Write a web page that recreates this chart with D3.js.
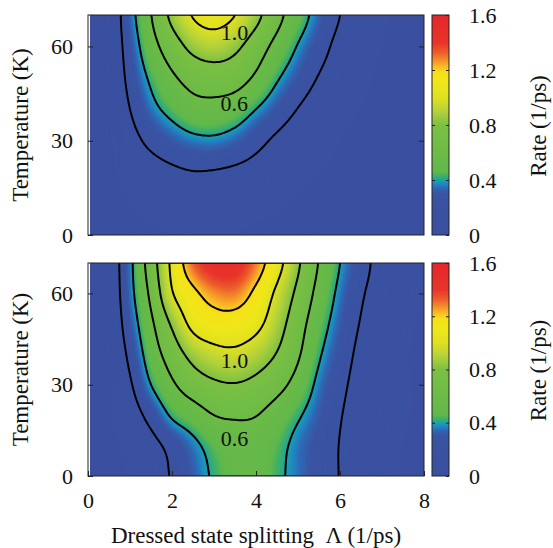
<!DOCTYPE html>
<html>
<head>
<meta charset="utf-8">
<script src="https://cdn.jsdelivr.net/npm/d3@7"></script>
<style>
  body { margin: 0; background: #fff; }
  text { font-family: "Liberation Serif", "Times New Roman", serif; }
</style>
</head>
<body>
<svg id="chart" width="553" height="548"></svg>
<script>
// grid the rate was read on (columns = splitting, rows = temperature)
const lambdaGrid = [0, 0.5, 1, 1.5, 2, 2.5, 3, 3.5, 4, 4.5, 5, 5.5, 6, 6.5, 7, 7.5, 8]
const tempGrid = [0, 10, 20, 30, 40, 50, 60, 70]

// upper panel, one row per temperature
const rateTop = [
  [0, 0, 0.02, 0.03, 0.04, 0.05, 0.05, 0.04, 0.03, 0.02, 0.01, 0.01, 0, 0, 0, 0, 0],
  [0, 0.01, 0.04, 0.07, 0.09, 0.10, 0.10, 0.09, 0.07, 0.05, 0.03, 0.02, 0.01, 0.01, 0, 0, 0],
  [0, 0.02, 0.08, 0.13, 0.17, 0.195, 0.19, 0.17, 0.14, 0.10, 0.07, 0.04, 0.03, 0.02, 0.01, 0, 0],
  [0, 0.03, 0.14, 0.24, 0.31, 0.36, 0.37, 0.33, 0.25, 0.17, 0.11, 0.07, 0.04, 0.02, 0.01, 0.01, 0],
  [0, 0.04, 0.20, 0.35, 0.45, 0.53, 0.54, 0.50, 0.40, 0.296, 0.195, 0.12, 0.07, 0.04, 0.02, 0.01, 0.01],
  [0, 0.05, 0.25, 0.43, 0.57, 0.67, 0.70, 0.68, 0.57, 0.418, 0.30, 0.19, 0.11, 0.06, 0.03, 0.02, 0.01],
  [0, 0.06, 0.29, 0.524, 0.705, 0.85, 0.90, 0.84, 0.70, 0.54, 0.39, 0.266, 0.15, 0.08, 0.04, 0.02, 0.01],
  [0, 0.06, 0.33, 0.595, 0.844, 1.01, 1.06, 1.00, 0.85, 0.658, 0.483, 0.333, 0.20, 0.10, 0.05, 0.03, 0.02]
]

// lower panel
const rateBottom = [
  [0, 0.01, 0.05, 0.12, 0.213, 0.32, 0.42, 0.48, 0.50, 0.43, 0.351, 0.27, 0.195, 0.12, 0.07, 0.04, 0.02],
  [0, 0.02, 0.07, 0.15, 0.25, 0.36, 0.46, 0.52, 0.52, 0.45, 0.357, 0.275, 0.195, 0.12, 0.07, 0.04, 0.02],
  [0, 0.03, 0.12, 0.257, 0.422, 0.51, 0.60, 0.62, 0.605, 0.52, 0.42, 0.314, 0.21, 0.13, 0.08, 0.05, 0.03],
  [0, 0.04, 0.18, 0.40, 0.571, 0.70, 0.77, 0.79, 0.75, 0.66, 0.53, 0.36, 0.24, 0.14, 0.08, 0.05, 0.03],
  [0, 0.05, 0.24, 0.494, 0.694, 0.86, 0.94, 0.96, 0.90, 0.79, 0.623, 0.42, 0.28, 0.16, 0.09, 0.05, 0.03],
  [0, 0.06, 0.30, 0.564, 0.826, 1.05, 1.12, 1.12, 1.05, 0.885, 0.683, 0.48, 0.32, 0.19, 0.11, 0.06, 0.03],
  [0, 0.07, 0.344, 0.642, 0.985, 1.16, 1.27, 1.29, 1.16, 0.963, 0.756, 0.54, 0.36, 0.22, 0.13, 0.07, 0.04],
  [0, 0.08, 0.36, 0.70, 1.04, 1.32, 1.46, 1.46, 1.29, 1.07, 0.825, 0.59, 0.40, 0.26, 0.14, 0.08, 0.05]
]

const contourLevels = [0.2, 0.4, 0.6, 0.8, 1.0, 1.2]

const topLabelText = ['1.0', '0.6']
const topLabelLambda = [3.49, 3.48]
const topLabelTemp = [64.5, 41.7]
const bottomLabelText = ['1.0', '0.6']
const bottomLabelLambda = [3.49, 3.49]
const bottomLabelTemp = [38.1, 12.2]

const xTicks = [0, 2, 4, 6, 8]
const yTicks = [0, 30, 60]
const barTicks = [0, 0.4, 0.8, 1.2, 1.6]

// palette of the colour bar
const colorValues = [0, 0.30, 0.34, 0.37, 0.40, 0.43, 0.46, 0.60, 0.80, 0.90, 1.00, 1.10, 1.18, 1.22, 1.27, 1.33, 1.40, 1.60]
const colorHex = ['#3a4fa0', '#3a53a3', '#2f66b2', '#1f86c4', '#19a3a8', '#3fb064', '#62b84a', '#6cbb46', '#7cc043',
  '#b4d23a', '#dfe022', '#efe71a', '#f6e118', '#fac022', '#f4902b', '#ec5b2b', '#e8342a', '#e6252b']

const svg = d3.select('#chart')
const font = '"Liberation Serif", "Times New Roman", serif'

const color = d3.scaleLinear().domain(colorValues).range(colorHex).interpolate(d3.interpolateRgb).clamp(true)
const x = d3.scaleLinear().domain([0, 8]).range([88, 424])

const colIndex = d3.scaleLinear().domain(d3.extent(lambdaGrid)).range([0, lambdaGrid.length - 1])
const rowIndex = d3.scaleLinear().domain(d3.extent(tempGrid)).range([0, tempGrid.length - 1])

// smooth the read grid for drawing (catmull-rom)
const cubic = (p0, p1, p2, p3, t) =>
  p1 + 0.5 * t * (p2 - p0 + t * (2 * p0 - 5 * p1 + 4 * p2 - p3 + t * (3 * (p1 - p2) + p3 - p0)))

function sample(grid, lam, temp) {
  const fx = colIndex(lam), fy = rowIndex(temp)
  const i = Math.min(Math.floor(fx), lambdaGrid.length - 2)
  const j = Math.min(Math.floor(fy), tempGrid.length - 2)
  const cx = c => Math.max(0, Math.min(lambdaGrid.length - 1, c))
  const cyy = r => Math.max(0, Math.min(tempGrid.length - 1, r))
  const rows = [-1, 0, 1, 2].map(dj => {
    const row = grid[cyy(j + dj)]
    return cubic(row[cx(i - 1)], row[cx(i)], row[cx(i + 1)], row[cx(i + 2)], fx - i)
  })
  return cubic(rows[0], rows[1], rows[2], rows[3], fy - j)
}

const dLam = 0.05, dT = 0.5
const nx = Math.round(8 / dLam) + 1
const ny = Math.round(70 / dT) + 1
const fillSteps = d3.range(0, 1.6, 0.01)

const defs = svg.append('defs')

function styleAxis(g) {
  g.select('.domain').remove()
  g.attr('font-family', font).attr('font-size', 22)
  g.selectAll('.tick line').attr('stroke', '#222')
  g.selectAll('.tick text').attr('fill', '#111')
}

function drawPanel(id, grid, top, bottom, labelText, labelLambda, labelTemp, showX) {
  const y = d3.scaleLinear().domain([0, 70]).range([bottom, top])

  const values = new Float64Array(nx * ny)
  for (let j = 0; j < ny; j++) {
    for (let i = 0; i < nx; i++) {
      values[j * nx + i] = Math.max(0, sample(grid, i * dLam, j * dT))
    }
  }

  const proj = d3.geoTransform({
    point(px, py) { this.stream.point(x((px - 0.5) * dLam), y((py - 0.5) * dT)) }
  })
  const path = d3.geoPath(proj)

  defs.append('clipPath').attr('id', 'clip-' + id)
    .append('rect')
    .attr('x', x(0) + 2).attr('y', top)
    .attr('width', x(8) - x(0) - 2).attr('height', bottom - top)

  const plot = svg.append('g').attr('clip-path', `url(#clip-${id})`)

  const bands = d3.contours().size([nx, ny]).thresholds(fillSteps)(values)
  plot.selectAll('path.band')
    .data(bands)
    .join('path')
    .attr('class', 'band')
    .attr('d', path)
    .attr('fill', d => color(d.value + 0.005))

  const lines = d3.contours().size([nx, ny]).thresholds(contourLevels)(values)
  plot.selectAll('path.level')
    .data(lines)
    .join('path')
    .attr('class', 'level')
    .attr('d', path)
    .attr('fill', 'none')
    .attr('stroke', '#000')
    .attr('stroke-width', 2)

  svg.append('g').selectAll('text')
    .data(labelText)
    .join('text')
    .attr('x', (d, i) => x(labelLambda[i]))
    .attr('y', (d, i) => y(labelTemp[i]))
    .attr('text-anchor', 'middle')
    .attr('dominant-baseline', 'central')
    .attr('font-size', 22)
    .attr('fill', '#111')
    .text(d => d)

  svg.append('rect')
    .attr('x', x(0)).attr('y', top)
    .attr('width', x(8) - x(0)).attr('height', bottom - top)
    .attr('fill', 'none').attr('stroke', '#222').attr('stroke-width', 1)

  svg.append('g')
    .attr('transform', `translate(${x(0)},0)`)
    .call(d3.axisLeft(y).tickValues(yTicks).tickSize(-5).tickPadding(15).tickFormat(d3.format('d')))
    .call(styleAxis)

  svg.append('g')
    .attr('transform', `translate(${x(8)},0)`)
    .call(d3.axisRight(y).tickValues([30, 60]).tickSize(-5).tickFormat(''))
    .call(styleAxis)

  if (showX) {
    svg.append('g')
      .attr('transform', `translate(0,${bottom})`)
      .call(d3.axisBottom(x).tickValues(xTicks).tickSize(-5).tickPadding(16).tickFormat(d3.format('d')))
      .call(styleAxis)
  }

  svg.append('text')
    .attr('transform', `translate(28,${(top + bottom) / 2}) rotate(-90)`)
    .attr('text-anchor', 'middle')
    .attr('font-size', 23)
    .attr('fill', '#111')
    .text('Temperature (K)')

  // colour bar
  const cy = d3.scaleLinear().domain([0, 1.6]).range([bottom, top])
  const grad = defs.append('linearGradient')
    .attr('id', 'grad-' + id)
    .attr('x1', 0).attr('y1', 1).attr('x2', 0).attr('y2', 0)
  grad.selectAll('stop')
    .data(colorValues)
    .join('stop')
    .attr('offset', d => d / 1.6)
    .attr('stop-color', d => color(d))

  svg.append('rect')
    .attr('x', 432).attr('y', top)
    .attr('width', 17).attr('height', bottom - top)
    .attr('fill', `url(#grad-${id})`)
    .attr('stroke', '#222').attr('stroke-width', 1)

  svg.append('g')
    .attr('transform', 'translate(449,0)')
    .call(d3.axisRight(cy).tickValues(barTicks).tickSize(-3).tickPadding(20)
      .tickFormat(d => d === 0 ? '0' : d3.format('.1f')(d)))
    .call(styleAxis)

  svg.append('g')
    .attr('transform', 'translate(432,0)')
    .call(d3.axisLeft(cy).tickValues([0.4, 0.8, 1.2]).tickSize(-3).tickFormat(''))
    .call(styleAxis)

  svg.append('text')
    .attr('transform', `translate(546,${(top + bottom) / 2 + 1}) rotate(-90)`)
    .attr('text-anchor', 'middle')
    .attr('font-size', 23)
    .attr('fill', '#111')
    .text('Rate (1/ps)')
}

drawPanel('top', rateTop, 15, 235, topLabelText, topLabelLambda, topLabelTemp, false)
drawPanel('bottom', rateBottom, 263, 476, bottomLabelText, bottomLabelLambda, bottomLabelTemp, true)

svg.append('text')
  .attr('x', 256).attr('y', 543)
  .attr('text-anchor', 'middle')
  .attr('font-size', 23)
  .attr('fill', '#111')
  .style('white-space', 'pre')
  .text('Dressed state splitting  \u039B (1/ps)')
</script>
</body>
</html>
